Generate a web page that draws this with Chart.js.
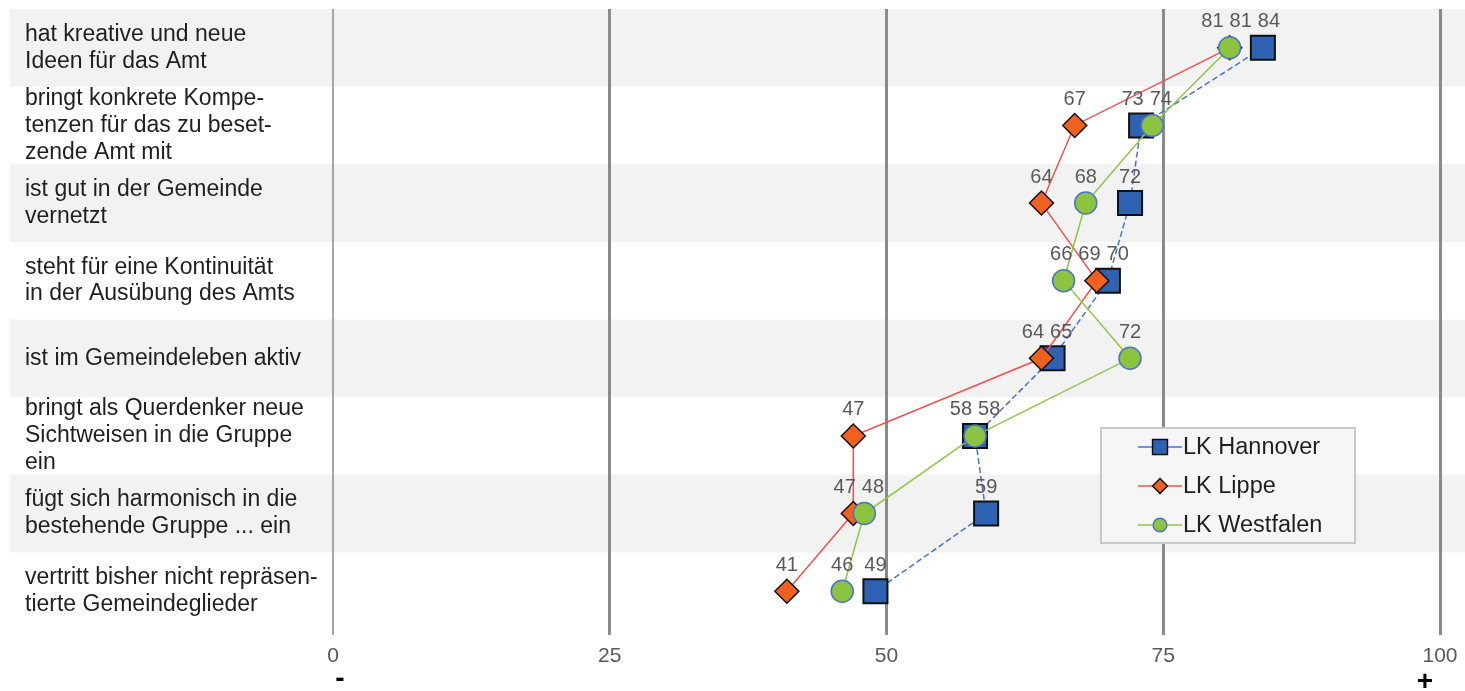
<!DOCTYPE html>
<html lang="de">
<head>
<meta charset="utf-8">
<title>Profil der Kandidaten</title>
<script src="https://cdn.jsdelivr.net/npm/chart.js@4.4.1/dist/chart.umd.min.js"></script>
<style>
  html, body { margin: 0; padding: 0; background: #fff; }
  #chart { display: block; }
</style>
</head>
<body>
<canvas id="chart" width="1465" height="691"></canvas>
<script>
// statements rated per district, 0 (-) to 100 (+)
const statements = [
    ['hat kreative und neue', 'Ideen für das Amt'],
    ['bringt konkrete Kompe-', 'tenzen für das zu beset-', 'zende Amt mit'],
    ['ist gut in der Gemeinde', 'vernetzt'],
    ['steht für eine Kontinuität', 'in der Ausübung des Amts'],
    'ist im Gemeindeleben aktiv',
    ['bringt als Querdenker neue', 'Sichtweisen in die Gruppe', 'ein'],
    ['fügt sich harmonisch in die', 'bestehende Gruppe ... ein'],
    ['vertritt bisher nicht repräsen-', 'tierte Gemeindeglieder']
];
const seriesNames = ['LK Hannover', 'LK Lippe', 'LK Westfalen'];
const hannover = [84, 73, 72, 70, 65, 58, 59, 49];
const lippe = [81, 67, 64, 69, 64, 47, 47, 41];
const westfalen = [81, 74, 68, 66, 72, 58, 48, 46];
const xTicks = [0, 25, 50, 75, 100];

const FONT = '"Liberation Sans", Arial, sans-serif';

// grey band behind every other statement
const rowBands = {
    id: 'rowBands',
    beforeDraw(chart) {
        const { ctx, scales: { y } } = chart;
        const step = y.getPixelForValue(1) - y.getPixelForValue(0);
        ctx.save();
        ctx.fillStyle = '#f2f2f2';
        statements.forEach((_, i) => {
            if (i % 2) return;
            const c = y.getPixelForValue(i);
            ctx.fillRect(10, c - step / 2, chart.width - 10, step);
        });
        ctx.restore();
    }
};

// numbers above the markers, pushed apart where they collide
const valueLabels = {
    id: 'valueLabels',
    afterDatasetsDraw(chart) {
        const { ctx } = chart;
        const gap = 6;
        ctx.save();
        ctx.font = '20px ' + FONT;
        ctx.fillStyle = '#595959';
        ctx.textAlign = 'center';
        ctx.textBaseline = 'middle';

        const layout = g => {
            const mean = g.items.reduce((s, it) => s + it.x, 0) / g.items.length;
            const total = g.items.reduce((s, it) => s + it.w, 0) + gap * (g.items.length - 1);
            let left = mean - total / 2;
            g.left = left;
            g.items.forEach(it => { it.lx = left + it.w / 2; left += it.w + gap; });
            g.right = left - gap;
        };

        statements.forEach((_, i) => {
            const items = chart.data.datasets.map((ds, d) => {
                const pt = chart.getDatasetMeta(d).data[i];
                const text = String(ds.data[i]);
                return { x: pt.x, y: pt.y, text, w: ctx.measureText(text).width };
            }).sort((a, b) => a.x - b.x);

            let groups = items.map(it => ({ items: [it] }));
            groups.forEach(layout);
            let merged = true;
            while (merged) {
                merged = false;
                for (let j = 1; j < groups.length; j++) {
                    if (groups[j].left < groups[j - 1].right + gap) {
                        groups[j - 1].items = groups[j - 1].items.concat(groups[j].items);
                        groups.splice(j, 1);
                        layout(groups[j - 1]);
                        merged = true;
                        break;
                    }
                }
            }
            items.forEach(it => ctx.fillText(it.text, it.lx, it.y - 26));
        });
        ctx.restore();
    }
};

// framed legend inside the plot
const boxLegend = {
    id: 'boxLegend',
    afterDatasetsDraw(chart) {
        const { ctx, chartArea } = chart;
        const left = chartArea.right - 339;
        const top = chartArea.top + 419;
        ctx.save();
        ctx.fillStyle = '#f6f6f6';
        ctx.fillRect(left, top, 254, 115);
        ctx.strokeStyle = '#c8c8c8';
        ctx.lineWidth = 2;
        ctx.strokeRect(left, top, 254, 115);

        chart.data.datasets.forEach((ds, d) => {
            const cy = top + 19 + d * 39;
            ctx.setLineDash([]);
            ctx.strokeStyle = ds.borderColor;
            ctx.lineWidth = 1.5;
            ctx.beginPath();
            ctx.moveTo(left + 37, cy);
            ctx.lineTo(left + 81, cy);
            ctx.stroke();

            ctx.fillStyle = ds.pointBackgroundColor;
            ctx.strokeStyle = ds.pointBorderColor;
            Chart.helpers.drawPoint(ctx, {
                pointStyle: ds.pointStyle,
                radius: ds.pointRadius * 0.62,
                borderWidth: ds.pointBorderWidth,
                rotation: 0
            }, left + 59, cy);

            ctx.fillStyle = '#1f1f1f';
            ctx.font = '23.5px ' + FONT;
            ctx.textAlign = 'left';
            ctx.textBaseline = 'middle';
            ctx.fillText(ds.label, left + 82, cy + 1);
        });
        ctx.restore();
    }
};

// "-" and "+" under the ends of the scale
const scaleEnds = {
    id: 'scaleEnds',
    afterDraw(chart) {
        const { ctx, scales: { x } } = chart;
        ctx.save();
        ctx.fillStyle = '#000';
        ctx.font = 'bold 28px ' + FONT;
        ctx.textBaseline = 'middle';
        ctx.textAlign = 'center';
        ctx.fillText('-', x.getPixelForValue(xTicks[0]) + 7, 679);
        ctx.fillText('+', x.getPixelForValue(xTicks[xTicks.length - 1]) - 15, 682);
        ctx.restore();
    }
};

const ctx = document.getElementById('chart').getContext('2d');

new Chart(ctx, {
    type: 'line',
    data: {
        labels: statements,
        datasets: [
            {
                label: seriesNames[0],
                data: hannover,
                borderColor: '#4a74c9',
                borderWidth: 1.5,
                borderDash: [6, 3],
                pointStyle: 'rect',
                pointRadius: 17,
                pointBackgroundColor: '#2f62b2',
                pointBorderColor: '#111111',
                pointBorderWidth: 2,
                order: 3
            },
            {
                label: seriesNames[1],
                data: lippe,
                borderColor: '#f2504e',
                borderWidth: 1.5,
                pointStyle: 'rectRot',
                pointRadius: 12,
                pointBackgroundColor: '#f0601e',
                pointBorderColor: '#111111',
                pointBorderWidth: 1.5,
                order: 2
            },
            {
                label: seriesNames[2],
                data: westfalen,
                borderColor: '#8fc641',
                borderWidth: 1.5,
                pointStyle: 'circle',
                pointRadius: 11,
                pointBackgroundColor: '#8cc440',
                pointBorderColor: '#4a74c9',
                pointBorderWidth: 1.5,
                order: 1
            }
        ]
    },
    options: {
        indexAxis: 'y',
        responsive: false,
        animation: false,
        events: [],
        clip: false,
        layout: {
            autoPadding: false,
            padding: { left: 25, right: 25, top: 9, bottom: 0 }
        },
        elements: { line: { tension: 0 } },
        plugins: {
            legend: { display: false },
            tooltip: { enabled: false }
        },
        scales: {
            y: {
                type: 'category',
                offset: true,
                grid: { display: false },
                border: { display: false },
                ticks: {
                    autoSkip: false,
                    crossAlign: 'far',
                    color: '#1f1f1f',
                    font: { family: FONT, size: 23, lineHeight: 1.17 }
                },
                afterFit(scale) {
                    scale.width = 308;
                    scale.paddingTop = 0;
                    scale.paddingBottom = 0;
                }
            },
            x: {
                type: 'linear',
                min: 0,
                max: 100,
                border: { display: false },
                grid: {
                    color: c => c.tick && c.tick.value === 0 ? '#a6a6a6' : '#8a8a8a',
                    lineWidth: c => c.tick && c.tick.value === 0 ? 2 : 3,
                    drawTicks: true,
                    tickLength: 5
                },
                ticks: {
                    padding: 9,
                    color: '#595959',
                    font: { family: FONT, size: 21 }
                },
                afterBuildTicks(scale) {
                    scale.ticks = xTicks.map(v => ({ value: v }));
                },
                afterFit(scale) {
                    scale.height = 61;
                    scale.paddingLeft = 0;
                    scale.paddingRight = 0;
                }
            }
        }
    },
    plugins: [rowBands, boxLegend, valueLabels, scaleEnds]
});
</script>
</body>
</html>
